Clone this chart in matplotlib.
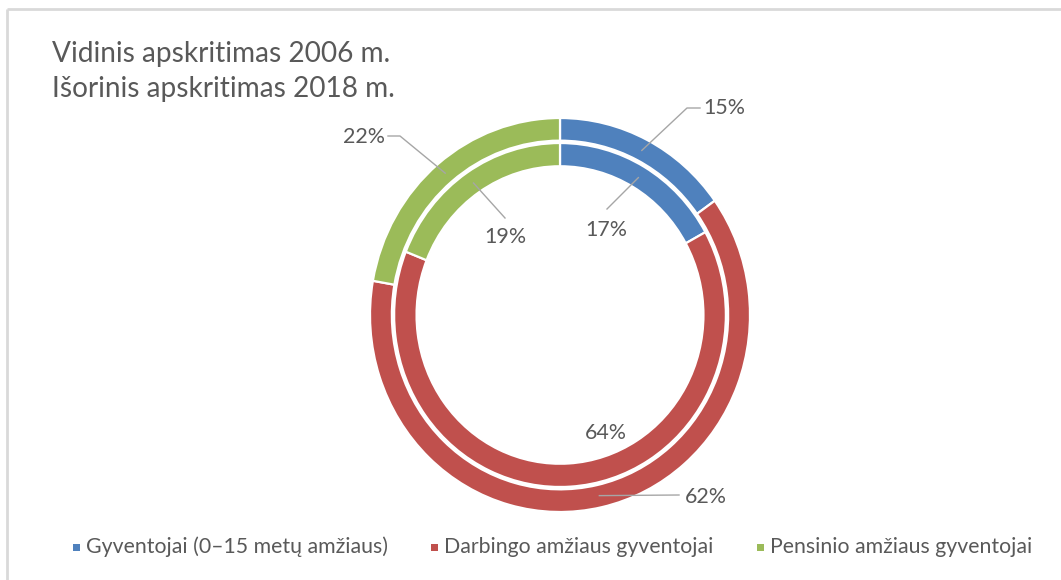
import matplotlib
matplotlib.use('Agg')
import matplotlib.pyplot as plt
import numpy as np
from matplotlib.patches import Rectangle

# ---------------- data ----------------
categories = ['Gyventojai (0–15 metų amžiaus)',
              'Darbingo amžiaus gyventojai',
              'Pensinio amžiaus gyventojai']
inner_2006 = [17, 64, 19]     # vidinis apskritimas
outer_2018 = [15, 62, 22]     # išorinis apskritimas
colors = ['#4F81BD', '#C0504D', '#9BBB59']
title_lines = ['Vidinis apskritimas 2006 m.', 'Išorinis apskritimas 2018 m.']

# ---------------- layout ----------------
W, H = 1061, 580
FONT = ['Lato', 'DejaVu Sans']
TXT = '#595959'
LINE = '#A6A6A6'
cx, cy, rx, ry = 560, 315, 190, 197

fig = plt.figure(figsize=(W / 100, H / 100), dpi=100)
fig.patch.set_facecolor('white')

dax = fig.add_axes([(cx - rx) / W, (H - cy - ry) / H, 2 * rx / W, 2 * ry / H])
wp = dict(edgecolor='white', linewidth=1.6)
wo, _ = dax.pie(outer_2018, radius=1.0, colors=colors, startangle=90,
                counterclock=False, wedgeprops=dict(width=0.115, **wp))
wi, _ = dax.pie(inner_2006, radius=0.873, colors=colors, startangle=90,
                counterclock=False, wedgeprops=dict(width=0.118, **wp))
dax.set_aspect('auto')
dax.set_xlim(-1, 1)
dax.set_ylim(-1, 1)
dax.axis('off')

ov = fig.add_axes([0, 0, 1, 1])
ov.set_xlim(0, W)
ov.set_ylim(H, 0)
ov.axis('off')
ov.patch.set_alpha(0)

renderer = fig.canvas.get_renderer()


def fit(t, target):
    w = t.get_window_extent(renderer).width
    t.set_fontsize(t.get_fontsize() * target / w)
    return t.get_fontsize()


# frame (cropped chart area border)
ov.plot([7, W], [9, 9], color='#D9D9D9', lw=2, solid_capstyle='butt')
ov.plot([7, 7], [9, H], color='#D9D9D9', lw=2, solid_capstyle='butt')

# title
t2 = ov.text(52, 97, title_lines[1], fontsize=20, color=TXT, family=FONT,
             ha='left', va='baseline')
ts = fit(t2, 342)
ov.text(52, 62, title_lines[0], fontsize=ts, color=TXT, family=FONT,
        ha='left', va='baseline')


def pt(w, r):
    th = np.deg2rad((w.theta1 + w.theta2) / 2)
    return cx + rx * r * np.cos(th), cy - ry * r * np.sin(th)


# data labels: (text x, text y, ha, path points after the wedge anchor)
outer_layout = [((703, 108, 'left'), [(687, 108), (700, 108)]),
                ((685, 497, 'left'), [(679, 495)]),
                ((385, 137, 'right'), [(400, 136), (388, 136)])]
inner_layout = [((606, 230, 'center'), [(607, 209)]),
                ((606, 433, 'center'), None),
                ((505, 237, 'center'), [(505, 218)])]

probe = ov.text(0, 0, '15%', fontsize=14, family=FONT)
ls = fit(probe, 42)
probe.remove()

for wedges, vals, lay, rmid in ((wo, outer_2018, outer_layout, 0.94),
                                (wi, inner_2006, inner_layout, 0.81)):
    for w, v, ((tx, ty, ha), path) in zip(wedges, vals, lay):
        if path:
            x0, y0 = pt(w, rmid)
            xs = [x0] + [p[0] for p in path]
            ys = [y0] + [p[1] for p in path]
            ov.plot(xs, ys, color=LINE, lw=1.0)
        ov.text(tx, ty, f'{v}%', fontsize=ls, color=TXT, family=FONT,
                ha=ha, va='center')

# legend
leg_sq_x = [76, 434, 760]
leg_y = 547
lt = ov.text(0, 0, categories[2], fontsize=14, family=FONT)
lsz = fit(lt, 262)
lt.remove()
for x, lab, c in zip(leg_sq_x, categories, colors):
    ov.add_patch(Rectangle((x - 3.5, leg_y - 3.5), 7, 7, facecolor=c,
                           edgecolor='none'))
    ov.text(x + 10, leg_y, lab, fontsize=lsz, color=TXT, family=FONT,
            ha='left', va='center')

fig.savefig('out.png', dpi=100, facecolor='white')
